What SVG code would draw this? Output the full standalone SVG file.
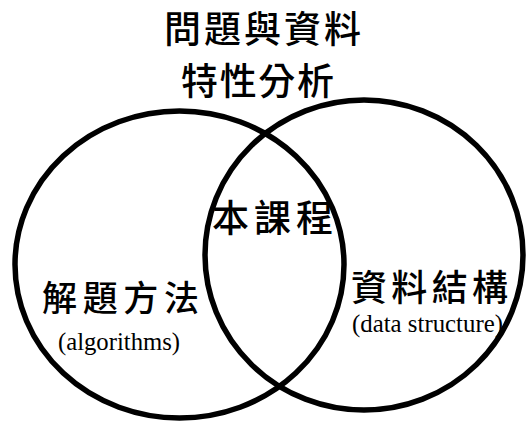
<svg xmlns="http://www.w3.org/2000/svg" width="527" height="422" viewBox="0 0 527 422">
<style>
.ring{fill:none;stroke:#000;stroke-width:5.5}
.cjk{font-family:"Noto Sans CJK TC","Noto Sans CJK SC",sans-serif;font-weight:500;fill:#000}
.lat{font-family:"Liberation Serif",serif;fill:#000}
</style>
<rect width="527" height="422" fill="#fff"/>
<g id="title">
<text class="cjk" x="164" y="43" font-size="37" textLength="197" lengthAdjust="spacing">問題與資料</text>
<text class="cjk" x="181" y="95" font-size="37" textLength="153" lengthAdjust="spacing">特性分析</text>
</g>
<g id="connectors">
<ellipse id="left-circle" class="ring" cx="179.5" cy="264.5" rx="164.5" ry="153.5"/>
<ellipse id="right-circle" class="ring" cx="364" cy="255" rx="159" ry="155"/>
</g>
<g id="center">
<text class="cjk" x="212" y="232" font-size="37" textLength="121" lengthAdjust="spacing">本課程</text>
</g>
<g id="algorithms">
<text class="cjk" x="42" y="311" font-size="35" textLength="157" lengthAdjust="spacing">解題方法</text>
<text class="lat" x="58" y="350" font-size="25" textLength="122" lengthAdjust="spacingAndGlyphs">(algorithms)</text>
</g>
<g id="datastructure">
<text class="cjk" x="351" y="301" font-size="36" textLength="157" lengthAdjust="spacing">資料結構</text>
<text class="lat" x="352" y="332" font-size="25" textLength="151" lengthAdjust="spacingAndGlyphs">(data structure)</text>
</g>
</svg>
